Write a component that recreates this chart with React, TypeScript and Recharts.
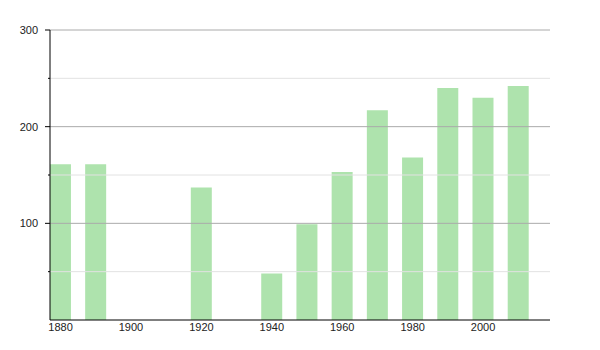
import { BarChart, Bar, XAxis, YAxis, ReferenceLine } from "recharts"

const years = [1880, 1890, 1920, 1940, 1950, 1960, 1970, 1980, 1990, 2000, 2010]
const values = [161, 161, 137, 48, 99, 153, 217, 168, 240, 230, 242]
const xTicks = [1880, 1900, 1920, 1940, 1960, 1980, 2000]
const yTicks = [0, 50, 100, 150, 200, 250, 300]
const majorLines = [100, 200, 300]
const minorLines = [50, 150, 250]

const data = years.map((year, i) => ({ year, value: values[i] }))

const font = "'Liberation Sans', Arial, sans-serif"

const YTick = ({ x, y, payload }: any) => {
  const major = payload.value % 100 === 0
  if (payload.value === 0) return null
  return (
    <g>
      <line x1={x - (major ? 5 : 2)} x2={x} y1={y} y2={y} stroke="#000" />
      {major && (
        <text x={x - 12} y={y} dy="0.35em" textAnchor="end" fontSize={11} fill="#222" fontFamily={font}>
          {payload.value}
        </text>
      )}
    </g>
  )
}

const App = () => {
  return (
    <div style={{ position: "absolute", left: 0, top: 0, background: "#fff" }}>
      <BarChart width={600} height={350} data={data} margin={{ top: 30, right: 50, bottom: 0, left: 0 }}>
        {minorLines.map((v) => (
          <ReferenceLine key={v} y={v} stroke="#e2e2e2" strokeWidth={1} />
        ))}
        {majorLines.map((v) => (
          <ReferenceLine key={v} y={v} stroke="#aaaaaa" strokeWidth={1} />
        ))}
        <XAxis
          dataKey="year"
          type="number"
          domain={[1877, 2019]}
          ticks={xTicks}
          allowDataOverflow
          height={30}
          tickLine={false}
          tickSize={0}
          tickMargin={3}
          axisLine={{ stroke: "#000" }}
          tick={{ fontSize: 11, fill: "#222", fontFamily: font }}
        />
        <YAxis
          width={50}
          domain={[0, 300]}
          ticks={yTicks}
          tickLine={false}
          tickSize={0}
          tickMargin={0}
          axisLine={{ stroke: "#000" }}
          tick={<YTick />}
        />
        <Bar dataKey="value" fill="#aee3ad" barSize={21} isAnimationActive={false} />
      </BarChart>
    </div>
  )
}

export default App
